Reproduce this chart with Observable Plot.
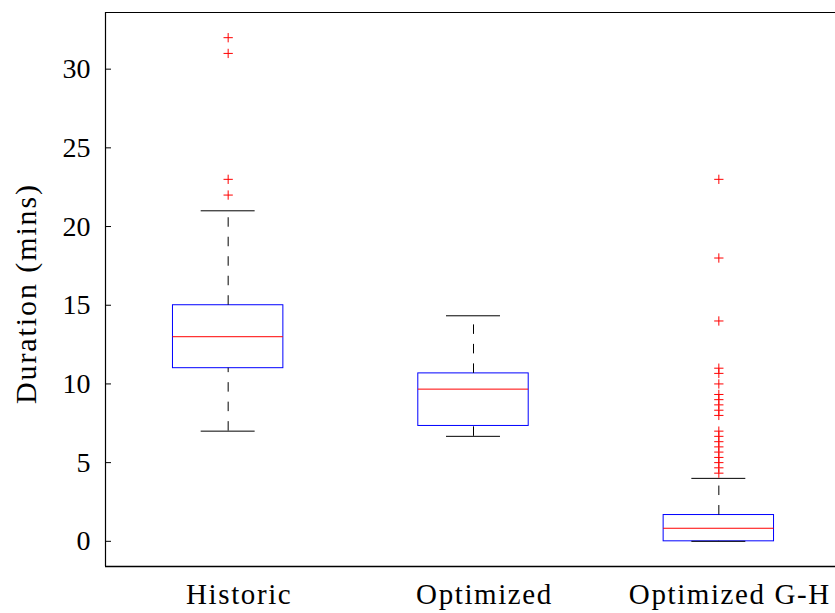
<!DOCTYPE html>
<html>
<head>
<meta charset="utf-8">
<script src="https://cdn.jsdelivr.net/npm/d3@7"></script>
<script src="https://cdn.jsdelivr.net/npm/@observablehq/plot@0.6"></script>
<style>
  html, body { margin: 0; padding: 0; background: #fff; overflow: hidden; }
  #chart svg { display: block; }
</style>
</head>
<body>
<div id="chart"></div>
<script>
// ---- data (minutes) ----
const categories = ["Historic", "Optimized", "Optimized G-H"];
const lowerWhisker = [7, 6.67, 0];
const q1 = [11, 7.33, 0];
const median = [13, 9.67, 0.83];
const q3 = [15, 10.67, 1.67];
const upperWhisker = [21, 14.33, 4];
const historicOutliers = [22, 23, 31, 32];
const optimizedOutliers = [];
const optimizedGHOutliers = [4.33, 4.67, 5, 5.33, 5.67, 6, 6.33, 6.67, 7, 8, 8.33, 8.67, 9, 9.33, 10, 10.67, 11, 14, 18, 23];
const yTicks = [0, 5, 10, 15, 20, 25, 30];
const yLabel = "Duration (mins)";

// ---- derived tables ----
const boxes = categories.map((c, i) => ({
  pos: i + 1, name: c,
  lo: lowerWhisker[i], q1: q1[i], med: median[i], q3: q3[i], hi: upperWhisker[i]
}));
const outlierSets = [historicOutliers, optimizedOutliers, optimizedGHOutliers];
const outliers = outlierSets.flatMap((arr, i) => arr.map(v => ({pos: i + 1, v})));

const BW = 0.225;  // box half-width (x units)
const CW = 0.11;   // cap half-width
const FONT = "'Liberation Serif', 'Times New Roman', serif";

const W = 835, H = 613;
const plot = Plot.plot({
  width: W,
  height: H,
  marginLeft: 105,
  marginRight: -6,
  marginTop: 12,
  marginBottom: 47,
  style: {fontFamily: FONT, background: "#fff", color: "#000"},
  x: {domain: [0.5, 3.5], axis: null},
  y: {domain: [-1.6, 33.6], axis: null},
  marks: [
    // boxes
    Plot.rect(boxes, {x1: d => d.pos - BW, x2: d => d.pos + BW, y1: "q1", y2: "q3",
      fill: "none", stroke: "#0000ff", strokeWidth: 1}),
    // medians
    Plot.ruleY(boxes, {y: "med", x1: d => d.pos - BW, x2: d => d.pos + BW, stroke: "#ff0000", strokeWidth: 1}),
    // whiskers (dashed)
    Plot.ruleX(boxes, {x: "pos", y1: "q3", y2: "hi", stroke: "#000", strokeWidth: 1, strokeDasharray: "9.5,10"}),
    Plot.ruleX(boxes, {x: "pos", y1: "lo", y2: "q1", stroke: "#000", strokeWidth: 1, strokeDasharray: "9.5,10"}),
    // caps
    Plot.ruleY(boxes, {y: "hi", x1: d => d.pos - CW, x2: d => d.pos + CW, stroke: "#000", strokeWidth: 1}),
    Plot.ruleY(boxes, {y: "lo", x1: d => d.pos - CW, x2: d => d.pos + CW, stroke: "#000", strokeWidth: 1}),
    // outliers
    Plot.dot(outliers, {x: "pos", y: "v", symbol: "plus", r: 3.1, stroke: "#ff0000", strokeWidth: 1}),
    // frame
    Plot.ruleX([0.5], {stroke: "#000", strokeWidth: 1.2}),
    Plot.ruleY([33.6], {stroke: "#000", strokeWidth: 1}),
    Plot.ruleY([-1.6], {stroke: "#000", strokeWidth: 1.6}),
    // inward ticks, left and right
    Plot.tickY(yTicks, {y: d => d, insetRight: 730, stroke: "#000", strokeWidth: 1}),
    Plot.tickY(yTicks, {y: d => d, insetLeft: 730, stroke: "#000", strokeWidth: 1}),
    // y tick labels
    Plot.axisY({ticks: yTicks, tickSize: 0, tickPadding: 15, fontSize: 28, fontFamily: FONT, fill: "#000"}),
    // x category labels
    Plot.axisX({ticks: [1, 2, 3], tickFormat: d => categories[d - 1], tickSize: 0, tickPadding: 17,
      fontSize: 29, fontFamily: FONT, fill: "#000", dx: 11, label: null}),
    // y axis title
    Plot.text([yLabel], {text: d => d, frameAnchor: "left", rotate: -90, dx: -79, dy: 4,
      fontSize: 30, fontFamily: FONT, fill: "#000", lineAnchor: "middle", textAnchor: "middle"})
  ]
});
document.getElementById("chart").appendChild(plot);
// widen serif glyph spacing a little to approximate Computer Modern metrics
plot.querySelectorAll("[aria-label='x-axis tick label'] text").forEach(t => t.setAttribute("letter-spacing", "1.6"));
plot.querySelectorAll("[aria-label='text'] text").forEach(t => t.setAttribute("letter-spacing", "1.9"));
</script>
</body>
</html>
